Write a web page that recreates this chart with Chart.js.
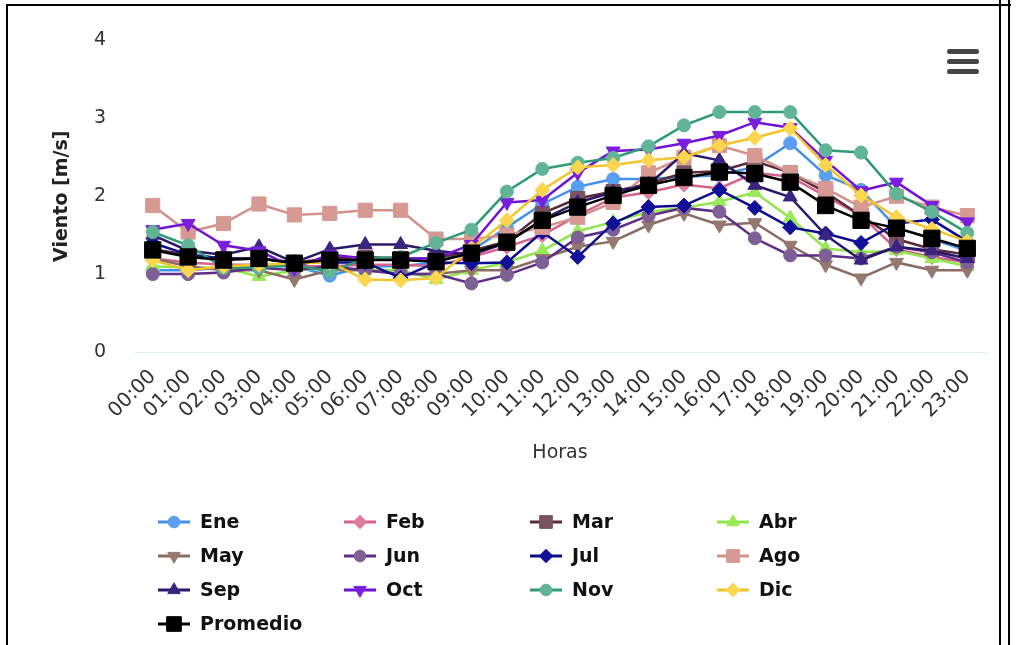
<!DOCTYPE html>
<html>
<head>
<meta charset="utf-8">
<script src="https://cdn.jsdelivr.net/npm/chart.js@4.4.1/dist/chart.umd.min.js"></script>
<style>
    html, body { margin: 0; padding: 0; background: #fff; }
    #wrap { position: relative; width: 1017px; height: 645px; overflow: hidden; }
    #vientochart { position: absolute; left: 0; top: 0; }
    .rule { position: absolute; background: #000; }
    .bar { position: absolute; left: 947px; width: 32px; height: 5px; border-radius: 3px; background: #444; }
</style>
</head>
<body>
<div id="wrap">
    <canvas id="vientochart" width="1017" height="645"></canvas>
    <div class="rule" style="left:6px; top:4px; width:1005px; height:2px;"></div>
    <div class="rule" style="left:6px; top:4px; width:2px; height:645px;"></div>
    <div class="rule" style="left:999px; top:0; width:2px; height:645px;"></div>
    <div class="rule" style="left:1008px; top:0; width:2px; height:645px;"></div>
    <div class="bar" style="top:49px;"></div>
    <div class="bar" style="top:59px;"></div>
    <div class="bar" style="top:69px;"></div>
</div>
<script>
var horas = ['00:00', '01:00', '02:00', '03:00', '04:00', '05:00', '06:00', '07:00', '08:00', '09:00', '10:00', '11:00',
    '12:00', '13:00', '14:00', '15:00', '16:00', '17:00', '18:00', '19:00', '20:00', '21:00', '22:00', '23:00'];

var ene = [1.05, 1.05, 1.08, 1.1, 1.1, 0.98, 1.1, 1.1, 1.15, 1.3, 1.6, 1.9, 2.12, 2.22, 2.22, 2.25, 2.27, 2.38, 2.68, 2.27, 2.08, 1.6, 1.45, 1.3];
var feb = [1.2, 1.15, 1.12, 1.12, 1.1, 1.1, 1.12, 1.12, 1.1, 1.22, 1.35, 1.5, 1.75, 1.98, 2.05, 2.15, 2.1, 2.3, 2.25, 2.0, 1.75, 1.32, 1.22, 1.15];
var mar = [1.32, 1.25, 1.2, 1.2, 1.15, 1.2, 1.22, 1.2, 1.2, 1.3, 1.42, 1.78, 1.97, 2.06, 2.16, 2.3, 2.32, 2.45, 2.3, 2.05, 1.75, 1.45, 1.32, 1.25];
var abr = [1.1, 1.08, 1.08, 0.97, 1.05, 1.08, 1.05, 1.05, 0.93, 1.05, 1.15, 1.3, 1.55, 1.67, 1.8, 1.85, 1.93, 2.05, 1.72, 1.33, 1.28, 1.3, 1.2, 1.1];
var may = [1.2, 1.1, 1.05, 1.05, 0.93, 1.05, 1.05, 1.0, 1.0, 1.05, 1.05, 1.2, 1.35, 1.42, 1.63, 1.78, 1.63, 1.66, 1.37, 1.12, 0.95, 1.15, 1.05, 1.05];
var jun = [1.0, 1.0, 1.02, 1.08, 1.05, 1.1, 1.05, 1.0, 1.0, 0.88, 0.99, 1.15, 1.47, 1.57, 1.75, 1.85, 1.8, 1.46, 1.24, 1.24, 1.2, 1.35, 1.28, 1.15];
var jul = [1.4, 1.25, 1.2, 1.2, 1.15, 1.15, 1.15, 0.95, 1.15, 1.14, 1.15, 1.54, 1.22, 1.65, 1.86, 1.88, 2.08, 1.85, 1.6, 1.52, 1.4, 1.65, 1.7, 1.42];
var ago = [1.88, 1.54, 1.65, 1.9, 1.76, 1.78, 1.82, 1.82, 1.45, 1.45, 1.5, 1.6, 1.73, 1.92, 2.3, 2.5, 2.65, 2.52, 2.3, 2.1, 1.86, 2.0, 1.86, 1.75];
var sep = [1.5, 1.3, 1.25, 1.35, 1.15, 1.32, 1.38, 1.38, 1.3, 1.25, 1.4, 1.7, 1.92, 2.05, 2.15, 2.55, 2.46, 2.14, 1.99, 1.5, 1.18, 1.35, 1.3, 1.2];
var oct = [1.57, 1.65, 1.37, 1.3, 1.08, 1.25, 1.2, 1.2, 1.2, 1.38, 1.92, 1.95, 2.3, 2.58, 2.6, 2.68, 2.78, 2.95, 2.88, 2.46, 2.07, 2.18, 1.88, 1.67];
var nov = [1.54, 1.37, 1.08, 1.08, 1.12, 1.03, 1.2, 1.22, 1.4, 1.57, 2.06, 2.35, 2.43, 2.49, 2.64, 2.91, 3.08, 3.08, 3.08, 2.59, 2.56, 2.03, 1.8, 1.53];
var dic = [1.18, 1.05, 1.1, 1.12, 1.14, 1.15, 0.93, 0.92, 0.95, 1.33, 1.69, 2.08, 2.37, 2.4, 2.46, 2.5, 2.65, 2.75, 2.87, 2.4, 2.01, 1.73, 1.58, 1.42];
var promedio = [1.31, 1.22, 1.18, 1.2, 1.14, 1.18, 1.18, 1.18, 1.16, 1.27, 1.41, 1.69, 1.86, 2.01, 2.14, 2.24, 2.31, 2.29, 2.18, 1.88, 1.69, 1.59, 1.46, 1.33];

var yTicks = [0, 1, 2, 3, 4];

// name, data, line colour, marker colour, marker style, radius, rotation
var series = [
    ['Ene', ene, '#4290ea', '#5a9ef2', 'circle', 6.5, 0],
    ['Feb', feb, '#d8628e', '#e07c9e', 'rectRot', 7.5, 0],
    ['Mar', mar, '#5a2a3a', '#7a5262', 'rect', 10, 0],
    ['Abr', abr, '#8ee648', '#98ea58', 'triangle', 8, 0],
    ['May', may, '#8a6c64', '#957870', 'triangle', 8, 180],
    ['Jun', jun, '#5e2d86', '#7e6096', 'circle', 6.5, 0],
    ['Jul', jul, '#0c0c8c', '#10109a', 'rectRot', 7.5, 0],
    ['Ago', ago, '#d2928a', '#d69a92', 'rect', 10, 0],
    ['Sep', sep, '#2c186a', '#3a2480', 'triangle', 8, 0],
    ['Oct', oct, '#7212d4', '#7a1ede', 'triangle', 8, 180],
    ['Nov', nov, '#2e9a78', '#62b496', 'circle', 6.5, 0],
    ['Dic', dic, '#f3c42c', '#fbd64e', 'rectRot', 7.5, 0],
    ['Promedio', promedio, '#000000', '#000000', 'rect', 11.5, 0]
];

var datasets = series.map(function (s, i) {
    return {
        label: s[0],
        data: s[1],
        borderColor: s[2],
        backgroundColor: s[3],
        pointBackgroundColor: s[3],
        pointBorderColor: s[3],
        pointStyle: s[4],
        pointRadius: s[5],
        pointRotation: s[6],
        pointBorderWidth: 1,
        borderWidth: 2.5,
        tension: 0,
        order: -i
    };
});

// grid legend under the plot, 4 columns
var gridLegend = {
    id: 'gridLegend',
    afterDraw: function (chart) {
        var ctx = chart.ctx;
        var cols = [158, 344, 530, 717];
        ctx.save();
        series.forEach(function (s, i) {
            var x = cols[i % 4];
            var y = 522 + Math.floor(i / 4) * 34;
            ctx.strokeStyle = s[2];
            ctx.lineWidth = 3;
            ctx.beginPath();
            ctx.moveTo(x, y);
            ctx.lineTo(x + 32, y);
            ctx.stroke();
            ctx.fillStyle = s[3];
            ctx.strokeStyle = s[3];
            ctx.lineWidth = 1;
            Chart.helpers.drawPoint(ctx, {
                pointStyle: s[4],
                radius: s[5] * 0.9,
                rotation: s[6],
                borderWidth: 1
            }, x + 16, y);
            ctx.fillStyle = '#111';
            ctx.font = 'bold 19px "DejaVu Sans"';
            ctx.textBaseline = 'middle';
            ctx.textAlign = 'left';
            ctx.fillText(s[0], x + 42, y + 1);
        });
        ctx.restore();
    }
};

var ctx = document.getElementById('vientochart');
var vientoChart = new Chart(ctx, {
    type: 'line',
    data: {
        labels: horas,
        datasets: datasets
    },
    options: {
        responsive: false,
        animation: false,
        devicePixelRatio: 1,
        layout: {
            padding: { left: 0, right: 32, top: 40, bottom: 0 }
        },
        scales: {
            x: {
                offset: true,
                grid: { display: false, drawTicks: false },
                border: { display: true, color: '#d6f0f5', width: 1 },
                ticks: {
                    autoSkip: false,
                    minRotation: 45,
                    maxRotation: 45,
                    padding: 13,
                    color: '#333',
                    font: { family: 'DejaVu Sans', size: 20 }
                },
                title: {
                    display: true,
                    text: 'Horas',
                    color: '#333',
                    font: { family: 'DejaVu Sans', size: 19 },
                    padding: { top: 0, bottom: 181 }
                },
                afterFit: function (scale) {
                    scale.height = 293;
                }
            },
            y: {
                min: 0,
                max: 4,
                afterBuildTicks: function (scale) {
                    scale.ticks = yTicks.map(function (v) { return { value: v }; });
                },
                grid: { display: false, drawTicks: false },
                border: { display: false },
                ticks: {
                    padding: 29,
                    color: '#333',
                    font: { family: 'DejaVu Sans', size: 19 }
                },
                title: {
                    display: true,
                    text: 'Viento [m/s]',
                    color: '#222',
                    font: { family: 'DejaVu Sans', size: 19, weight: 'bold' },
                    padding: { top: 51, bottom: 0 }
                },
                afterFit: function (scale) {
                    scale.width = 135;
                }
            }
        },
        plugins: {
            legend: { display: false },
            tooltip: { enabled: false }
        }
    },
    plugins: [gridLegend]
});
</script>
</body>
</html>
